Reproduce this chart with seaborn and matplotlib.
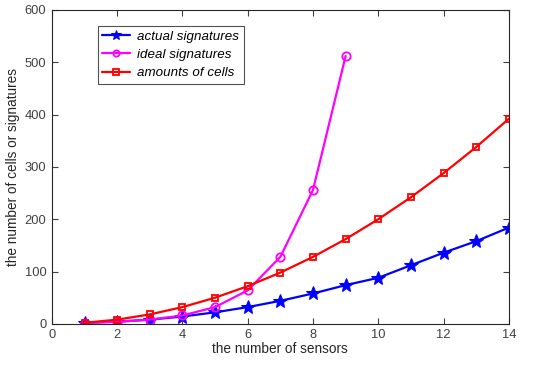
import numpy as np
import pandas as pd
import matplotlib
matplotlib.use("Agg")
import matplotlib.pyplot as plt
import seaborn as sns

sensors_actual = [1, 2, 3, 4, 5, 6, 7, 8, 9, 10, 11, 12, 13, 14]
actual_signatures = [2, 4, 8, 14, 22, 32, 44, 58, 74, 88, 112, 136, 158, 184]
sensors_ideal = [1, 2, 3, 4, 5, 6, 7, 8, 9]
ideal_signatures = [2, 4, 8, 16, 32, 64, 128, 256, 512]
sensors_cells = [1, 2, 3, 4, 5, 6, 7, 8, 9, 10, 11, 12, 13, 14]
amounts_of_cells = [2, 8, 18, 32, 50, 72, 98, 128, 162, 200, 242, 288, 338, 392]

sns.set_theme(style="white")
plt.rcParams['font.family'] = ['Liberation Sans', 'DejaVu Sans']

fig = plt.figure(figsize=(5.46, 3.68), dpi=100)
ax = fig.add_axes([0.095, 0.12, 0.837, 0.853])

df_a = pd.DataFrame({"x": sensors_actual, "y": actual_signatures})
df_i = pd.DataFrame({"x": sensors_ideal, "y": ideal_signatures})
df_c = pd.DataFrame({"x": sensors_cells, "y": amounts_of_cells})

sns.lineplot(data=df_a, x="x", y="y", ax=ax, color="#0000ff", lw=1.6,
             marker="*", markersize=10, markeredgecolor="#0000ff",
             markerfacecolor="#0000ff", label="actual signatures")
sns.lineplot(data=df_i, x="x", y="y", ax=ax, color="#ff00ff", lw=1.6,
             marker="o", markersize=6, markeredgecolor="#ff00ff",
             markerfacecolor="none", markeredgewidth=1.3, label="ideal signatures")
sns.lineplot(data=df_c, x="x", y="y", ax=ax, color="#ff0000", lw=1.6,
             marker="s", markersize=5, markeredgecolor="#ff0000",
             markerfacecolor="none", markeredgewidth=1.3, label="amounts of cells")

ax.set_xlim(0, 14)
ax.set_ylim(0, 600)
ax.set_xticks([0, 2, 4, 6, 8, 10, 12, 14])
ax.set_yticks([0, 100, 200, 300, 400, 500, 600])
ax.set_xlabel("the number of sensors", fontsize=9.8, color="#262626", labelpad=1)
ax.set_ylabel("the number of cells or signatures", fontsize=9.8, color="#262626", labelpad=3)
ax.tick_params(direction="in", length=4, width=0.8, colors="#404040",
               labelsize=9.3, top=True, right=True, bottom=True, left=True,
               labeltop=False, labelright=False)
ax.tick_params(axis="y", pad=4)
for s in ax.spines.values():
    s.set_color("#262626")
    s.set_linewidth(0.8)

leg = ax.legend(loc="upper left", bbox_to_anchor=(0.1, 0.95), fontsize=9.6,
                frameon=True, fancybox=False, edgecolor="#262626",
                borderpad=0.35, labelspacing=0.45, handlelength=2.1,
                handletextpad=0.5, borderaxespad=0, markerscale=0.75)
leg.get_frame().set_linewidth(0.8)
for t in leg.get_texts():
    t.set_fontstyle("italic")
    t.set_color("#000000")

fig.savefig("out.png", dpi=100)
